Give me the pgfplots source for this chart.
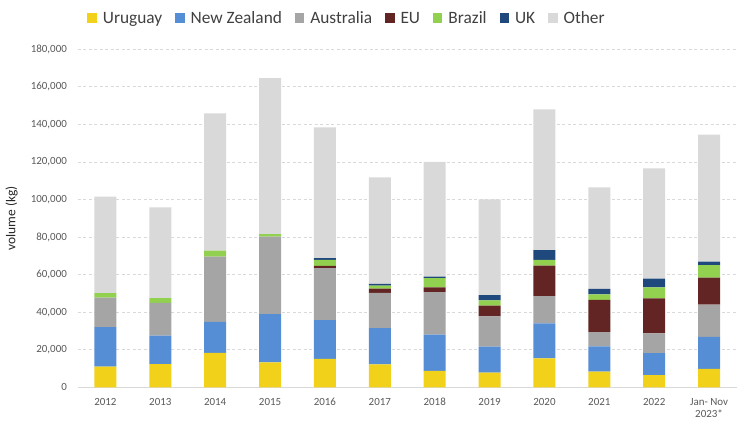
\documentclass[border=0pt]{standalone}
\usepackage{fontspec}
\setmainfont{Carlito}
\usepackage{pgfplots}
\usepackage{pgfplotstable}
\pgfplotsset{compat=1.18}
\definecolor{cU}{HTML}{F2D11B}
\definecolor{cNZ}{HTML}{558ED5}
\definecolor{cAU}{HTML}{A5A5A5}
\definecolor{cEU}{HTML}{632523}
\definecolor{cBR}{HTML}{92D050}
\definecolor{cUK}{HTML}{1F497D}
\definecolor{cOT}{HTML}{D9D9D9}
\definecolor{txt}{HTML}{595959}
\definecolor{gridc}{HTML}{D9D9D9}
\pgfplotstableread{
x U NZ AU EU BR UK OT
0 11000 21000 15700 0 2500 0 51300
1 12400 15100 17500 0 2550 0 48300
2 18300 16500 34800 0 3200 0 73100
3 13300 25700 41200 0 1400 0 83100
4 15100 20700 27700 1100 3200 1000 69600
5 12250 19200 18800 2300 1600 900 56800
6 8800 19200 22750 2500 4950 700 61100
7 7800 13800 16200 5650 2850 2850 50950
8 15400 18700 14500 16150 3050 5300 74900
9 8300 13500 7600 17200 2850 3000 54000
10 6550 11700 10500 18650 5850 4600 58750
11 9750 17050 17200 14350 6750 1800 67600
}\data
\begin{document}
\begin{tikzpicture}
\useasboundingbox (-78bp,-34.7bp) rectangle (660bp,387.3bp);
\begin{axis}[
  at={(0,0)}, anchor=south west,
  scale only axis, width=658.5bp, height=338bp,
  ybar stacked, bar width=22bp,
  xmin=-0.5, xmax=11.5, ymin=0, ymax=180000,
  ytick={0,20000,40000,60000,80000,100000,120000,140000,160000,180000},
  yticklabels={0,{20,000},{40,000},{60,000},{80,000},{100,000},{120,000},{140,000},{160,000},{180,000}},
  xtick={0,1,2,3,4,5,6,7,8,9,10,11},
  xticklabels={2012,2013,2014,2015,2016,2017,2018,2019,2020,2021,2022,{Jan- Nov\\2023*}},
  scaled y ticks=false,
  yticklabel style={font=\fontsize{11}{13}\selectfont, text=txt, xshift=-7.6bp},
  xticklabel style={font=\fontsize{11}{12.3}\selectfont, text=txt, align=center, yshift=-7.5bp},
  major tick length=0pt,
  axis x line*=bottom, axis y line*=left,
  x axis line style={draw=gridc, line width=0.8bp},
  y axis line style={draw=none},
  ymajorgrids, major grid style={draw=gridc, dash pattern=on 3bp off 2.5bp, line width=0.8bp},
  ylabel={volume (kg)},
  ylabel style={at={(axis description cs:-0.1007,0.5)}, anchor=center, font=\fontsize{13.5}{15}\selectfont, text=black!85},
  legend columns=-1,
  legend style={draw=none, fill=none, inner sep=0pt, at={(0.0141,1.0917)}, anchor=west,
    font=\fontsize{17.4}{20}\selectfont, text=black!75,
    /tikz/every odd column/.append style={column sep=4bp},
    /tikz/every even column/.append style={column sep=11bp}},
  legend image code/.code={\fill[#1] (0bp,-5bp) rectangle (9.4bp,5bp);},
  every axis plot/.append style={draw=none},
]
\addplot[fill=cU] table[x=x,y=U]{\data};
\addplot[fill=cNZ] table[x=x,y=NZ]{\data};
\addplot[fill=cAU] table[x=x,y=AU]{\data};
\addplot[fill=cEU] table[x=x,y=EU]{\data};
\addplot[fill=cBR] table[x=x,y=BR]{\data};
\addplot[fill=cUK] table[x=x,y=UK]{\data};
\addplot[fill=cOT] table[x=x,y=OT]{\data};
\legend{Uruguay,New Zealand,Australia,EU,Brazil,UK,Other}
\end{axis}
\end{tikzpicture}
\end{document}
